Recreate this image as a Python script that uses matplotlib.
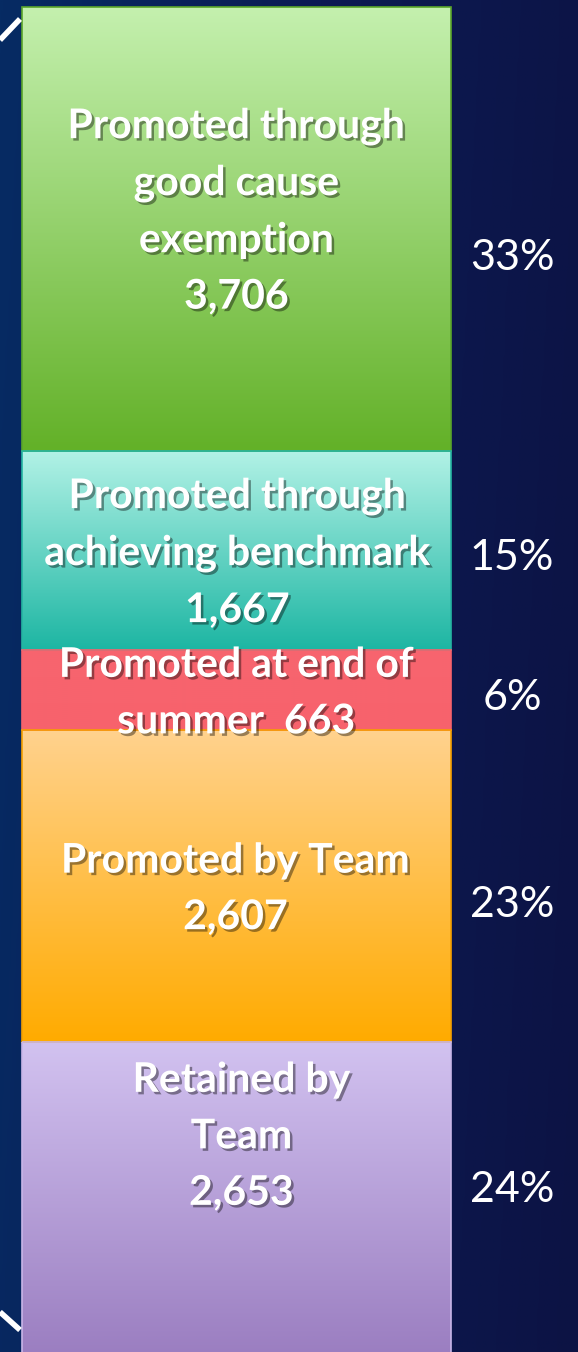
import numpy as np
import matplotlib
matplotlib.use("Agg")
import matplotlib.pyplot as plt
import matplotlib.patheffects as pe
from matplotlib.colors import LinearSegmentedColormap
from matplotlib.lines import Line2D

# ---- data ----
categories = ["Promoted through\ngood cause\nexemption",
              "Promoted through\nachieving benchmark",
              "Promoted at end of\nsummer ",
              "Promoted by Team",
              "Retained by\nTeam"]
values = [3706, 1667, 663, 2607, 2653]
value_labels = ["3,706", "1,667", "663", "2,607", "2,653"]
pct_labels = ["33%", "15%", "6%", "23%", "24%"]

# ---- styles ----
grad_top = ["#c4f0ae", "#b2f2e6", "#f7656f", "#ffd28e", "#d2c2f0"]
grad_bot = ["#63b128", "#1db6a3", "#f7626c", "#ffab00", "#9a7dc0"]
edge_cols = ["#5aa52a", "#25b5a2", "#f7626c", "#f5a000", "#c8b6e8"]
label_sep = ["\n", "\n", " ", "\n", "\n"]   # join between text and value
label_dy = [-17, 3, 3.5, 3.5, -64]          # pixel offsets of the label block
label_dx = [0, 1, 0, -1, 5]
pct_dy = [29, 7.5, 8, 19, -11]

W, H = 578, 1352
fig = plt.figure(figsize=(W / 100, H / 100), dpi=100)

# background gradient
bg = fig.add_axes([0, 0, 1, 1])
bg.set_axis_off()
xs = np.linspace(0, 1, 256)
ys = np.linspace(0, 1, 64)
X, Y = np.meshgrid(xs, ys)
bgmap = LinearSegmentedColormap.from_list("bg", ["#062b63", "#0c1b54", "#0c1344"])
bg.imshow(X * 0.9 + Y * 0.1, cmap=bgmap, aspect="auto", extent=[0, 1, 0, 1])
bg.set_xlim(0, 1)
bg.set_ylim(0, 1)

ax = fig.add_axes([0, 0, 1, 1])
ax.set_axis_off()
ax.patch.set_alpha(0)

px_per_unit = 0.11975
top_px = 7
bar_left, bar_right = 22, 451
bw = 1.0
xunit = (bar_right - bar_left) / bw

bottoms = np.concatenate([[0], np.cumsum(values)[:-1]])
bars = ax.bar([0] * len(values), values, bottom=bottoms, width=bw,
              color="none", edgecolor="none", zorder=2)

for i, b in enumerate(bars):
    x0, y0 = b.get_x(), b.get_y()
    w, h = b.get_width(), b.get_height()
    cmap = LinearSegmentedColormap.from_list(f"g{i}", [grad_top[i], grad_bot[i]])
    grad = np.linspace(0, 1, 200).reshape(-1, 1)
    im = ax.imshow(grad, cmap=cmap, aspect="auto",
                   extent=[x0, x0 + w, y0 + h, y0], zorder=1.5,
                   interpolation="bicubic")
    im.set_clip_path(b)
    b.set_edgecolor(edge_cols[i])
    b.set_linewidth(1.2)

ax.set_xlim(-0.5 - bar_left / xunit, 0.5 + (W - bar_right) / xunit)
ax.set_ylim((H - top_px) / px_per_unit, -top_px / px_per_unit)

shadow = [pe.withSimplePatchShadow(offset=(1.8, -1.8), shadow_rgbFace="#000000", alpha=0.4)]
for i, b in enumerate(bars):
    cy = b.get_y() + b.get_height() / 2
    txt = categories[i] + label_sep[i] + value_labels[i]
    ax.text(label_dx[i] / xunit, cy + label_dy[i] / px_per_unit, txt,
            ha="center", va="center",
            color="white", fontsize=29.5, fontweight="bold", family="Lato",
            linespacing=1.65, zorder=5, path_effects=shadow)
    ax.text(0.5 + 61 / xunit, cy + pct_dy[i] / px_per_unit, pct_labels[i],
            ha="center", va="center", color="white", fontsize=31,
            family="Lato", zorder=5)

# decorative white corner lines
fig.add_artist(Line2D([0 / W, 20 / W], [1 - 40 / H, 1 - 19 / H], color="white",
                      lw=4, solid_capstyle="butt"))
fig.add_artist(Line2D([0 / W, 20 / W], [1 - 1312 / H, 1 - 1330 / H], color="white",
                      lw=4, solid_capstyle="butt"))

fig.savefig("out.png", dpi=100)
